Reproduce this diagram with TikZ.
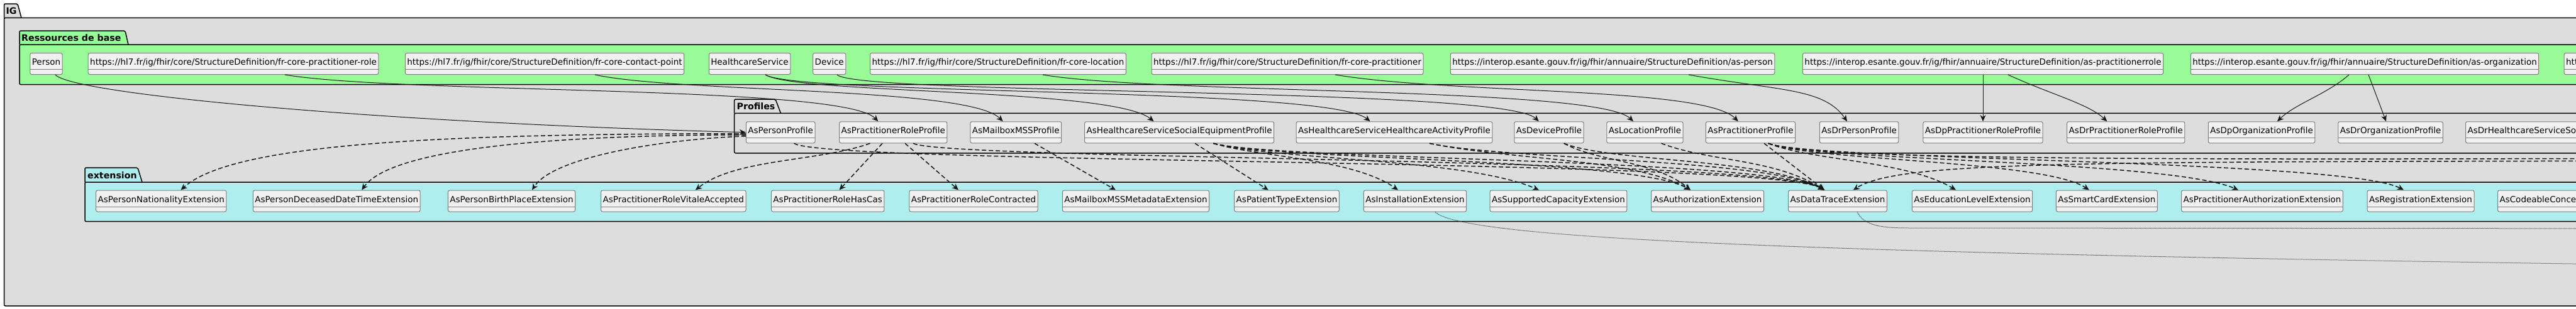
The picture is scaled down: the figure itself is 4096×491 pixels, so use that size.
\documentclass[tikz,border=0pt]{standalone}
\usepackage{fontspec}
\setmainfont{DejaVu Sans}
\usepackage{tikz}
\usetikzlibrary{arrows.meta}
\usepackage{xcolor}

\definecolor{igfill}{HTML}{DDDDDD}
\definecolor{basefill}{HTML}{98FB98}
\definecolor{extfill}{HTML}{AFEEEE}
\definecolor{clsfill}{HTML}{F1F1F1}
\definecolor{clsline}{HTML}{7F7F7F}
\definecolor{edgeline}{HTML}{181818}

\newcommand{\clsfont}{\fontsize{13.5}{16}\selectfont}
\newcommand{\pkgfont}{\fontsize{14.2}{17}\selectfont\bfseries}

\begin{document}
\begin{tikzpicture}[
        x=1pt, y=-1pt,
        pkg/.style={draw=black, line width=1.5pt, rounded corners=2pt},
        pkglabel/.style={anchor=base west, inner sep=0pt, font=\pkgfont},
        cls/.style={rectangle, draw=clsline, fill=clsfill, line width=1pt, rounded corners=2.5pt,
            inner xsep=3pt, inner ysep=0pt, text height=19pt, text depth=15pt, font=\clsfont,
            path picture={\draw[clsline, line width=1pt] ([yshift=8pt]path picture bounding box.south west) -- ([yshift=8pt]path picture bounding box.south east);}},
        link/.style={draw=edgeline, line width=1pt, -{Stealth[length=10pt, width=9pt, inset=3pt]}},
        dep/.style={link, line width=1.5pt, dash pattern=on 7pt off 4pt},
        trace/.style={draw=black!80, line width=1pt, dash pattern=on 1pt off 1pt}
    ]
    \useasboundingbox (0,0) rectangle (4096,491);
    \clip (0,0) rectangle (4096,491);
    \fill[white] (0,0) rectangle (4096,491);

    % Packages
    \draw[pkg, fill=igfill] (6.5,28.4) -- (6.5,6) -- (28,6) -- (34,28.4);
    \draw[pkg, fill=igfill] (6.5,28.4) rectangle (4300,487);
    \node[pkglabel] (igLabel) at (9.5,22) {IG};

    \draw[pkg, fill=basefill] (31,71) -- (31,49) -- (199,49) -- (204,71);
    \draw[pkg, fill=basefill] (31,71) rectangle (4300,134.6);
    \node[pkglabel] (baseLabel) at (34,65) {Ressources de base};

    \draw[pkg, fill=igfill] (1167.7,180.4) -- (1167.7,158) -- (1233,158) -- (1241.5,180.4);
    \draw[pkg, fill=igfill] (1167.7,180.4) rectangle (4300,243.8);
    \node[pkglabel] (profLabel) at (1171.5,174) {Profiles};

    \draw[pkg, fill=extfill] (135,290) -- (135,267) -- (219,267) -- (226,290);
    \draw[pkg, fill=extfill] (135,290) rectangle (4300,352.7);
    \node[pkglabel] (extLabel) at (139,284) {extension};

    % Nodes - base resources
    \node[cls] (person) at (73.5,101.5) {Person};
    \node[cls] (coreRole) at (371,101.5) {https://hl7.fr/ig/fhir/core/StructureDefinition/fr-core-practitioner-role};
    \node[cls] (coreContact) at (866,101.5) {https://hl7.fr/ig/fhir/core/StructureDefinition/fr-core-contact-point};
    \node[cls] (hcService) at (1192,101.5) {HealthcareService};
    \node[cls] (device) at (1318.7,101.5) {Device};
    \node[cls] (coreLocation) at (1587,101.5) {https://hl7.fr/ig/fhir/core/StructureDefinition/fr-core-location};
    \node[cls] (corePract) at (2047,101.5) {https://hl7.fr/ig/fhir/core/StructureDefinition/fr-core-practitioner};
    \node[cls] (asPerson) at (2564,101.5) {https://interop.esante.gouv.fr/ig/fhir/annuaire/StructureDefinition/as-person};
    \node[cls] (asPractRole) at (3153,101.5) {https://interop.esante.gouv.fr/ig/fhir/annuaire/StructureDefinition/as-practitionerrole};
    \node[cls] (asOrg) at (3760,101.5) {https://interop.esante.gouv.fr/ig/fhir/annuaire/StructureDefinition/as-organization};
    \node[cls, anchor=west] (nextRes) at (4076.6,101.5) {https://};

    % Nodes - profiles
    \node[cls] (personProf) at (1241.2,210.75) {AsPersonProfile};
    \node[cls] (practRoleProf) at (1420.3,210.75) {AsPractitionerRoleProfile};
    \node[cls] (mailboxProf) at (1615.3,210.75) {AsMailboxMSSProfile};
    \node[cls] (hcsSocialProf) at (1875.2,210.75) {AsHealthcareServiceSocialEquipmentProfile};
    \node[cls] (hcsActivityProf) at (2217,210.75) {AsHealthcareServiceHealthcareActivityProfile};
    \node[cls] (deviceProf) at (2463,210.75) {AsDeviceProfile};
    \node[cls] (locationProf) at (2615.5,210.75) {AsLocationProfile};
    \node[cls] (practProf) at (2783.5,210.75) {AsPractitionerProfile};
    \node[cls] (drPersonProf) at (2956,210.75) {AsDrPersonProfile};
    \node[cls] (dpPractRoleProf) at (3153,210.75) {AsDpPractitionerRoleProfile};
    \node[cls] (drPractRoleProf) at (3380.3,210.75) {AsDrPractitionerRoleProfile};
    \node[cls] (dpOrgProf) at (3596,210.75) {AsDpOrganizationProfile};
    \node[cls] (drOrgProf) at (3801,210.75) {AsDrOrganizationProfile};
    \node[cls, anchor=west] (drHcsSocialProf) at (3920,210.75) {AsDrHealthcareServiceSocialEquipmentProfile};

    % Nodes - extensions
    \node[cls] (nationalityExt) at (256.2,320) {AsPersonNationalityExtension};
    \node[cls] (deceasedExt) at (535.2,320) {AsPersonDeceasedDateTimeExtension};
    \node[cls] (birthPlaceExt) at (813.5,320) {AsPersonBirthPlaceExtension};
    \node[cls] (vitaleExt) at (1070.8,320) {AsPractitionerRoleVitaleAccepted};
    \node[cls] (hasCasExt) at (1316.2,320) {AsPractitionerRoleHasCas};
    \node[cls] (contractedExt) at (1548,320) {AsPractitionerRoleContracted};
    \node[cls] (mailboxMetaExt) at (1806,320) {AsMailboxMSSMetadataExtension};
    \node[cls] (patientTypeExt) at (2046,320) {AsPatientTypeExtension};
    \node[cls] (installationExt) at (2250,320) {AsInstallationExtension};
    \node[cls] (capacityExt) at (2478,320) {AsSupportedCapacityExtension};
    \node[cls] (authorizationExt) at (2715,320) {AsAuthorizationExtension};
    \node[cls] (dataTraceExt) at (2922,320) {AsDataTraceExtension};
    \node[cls] (educationExt) at (3136,320) {AsEducationLevelExtension};
    \node[cls] (smartCardExt) at (3349.8,320) {AsSmartCardExtension};
    \node[cls] (practAuthExt) at (3597,320) {AsPractitionerAuthorizationExtension};
    \node[cls] (registrationExt) at (3849,320) {AsRegistrationExtension};
    \node[cls, anchor=west] (codeableExt) at (3971,320) {AsCodeableConceptExtension};

    % free ends beyond the right border
    \coordinate (offBand) at (4300,252);
    \coordinate (offRight) at (4300,256);
    \coordinate (offTraceA) at (4300,423);
    \coordinate (offTraceB) at (4300,364);

    % Connections - resources to profiles
    \draw[link] ([xshift=14.5pt]person.south) .. controls (115,150) and (600,195) .. (personProf.west);
    \draw[link] ([xshift=82pt]coreRole.south) .. controls (640,150) and (1340,135) .. ([xshift=-24pt]practRoleProf.north);
    \draw[link] ([xshift=80pt]coreContact.south) .. controls (1080,148) and (1540,138) .. ([xshift=-20.7pt]mailboxProf.north);
    \draw[link] ([xshift=25pt]hcService.south) .. controls (1265,150) and (1770,140) .. ([xshift=-40.7pt]hcsSocialProf.north);
    \draw[link] ([xshift=25pt]hcService.south) .. controls (1270,152) and (2110,138) .. ([xshift=-38.4pt]hcsActivityProf.north);
    \draw[link] ([xshift=12.3pt]device.south) .. controls (1365,152) and (2390,138) .. ([xshift=-16.3pt]deviceProf.north);
    \draw[link] ([xshift=71pt]coreLocation.south) .. controls (1840,150) and (2540,138) .. ([xshift=-18.5pt]locationProf.north);
    \draw[link] ([xshift=76pt]corePract.south) .. controls (2310,150) and (2710,138) .. ([xshift=-19.8pt]practProf.north);
    \draw[link] ([xshift=121pt]asPerson.south) .. controls (2830,145) and (2900,140) .. ([xshift=-19pt]drPersonProf.north);
    \draw[link] (asPractRole.south) -- (dpPractRoleProf.north);
    \draw[link] ([xshift=40pt]asPractRole.south) .. controls (3260,150) and (3320,165) .. ([xshift=-30pt]drPractRoleProf.north);
    \draw[link] ([xshift=-25pt]asOrg.south) .. controls (3700,150) and (3650,165) .. ([xshift=25pt]dpOrgProf.north);
    \draw[link] ([xshift=6pt]asOrg.south) -- ([xshift=-7pt]drOrgProf.north);

    % Connections - profiles to extensions
    \draw[dep] ([yshift=-2pt]personProf.west) .. controls (700,213) and (370,228) .. ([xshift=31.4pt]nationalityExt.north);
    \draw[dep] ([yshift=-4pt]personProf.west) .. controls (850,215) and (620,240) .. ([xshift=40pt]deceasedExt.north);
    \draw[dep] ([yshift=-6pt]personProf.west) .. controls (1050,222) and (880,250) .. ([xshift=32.5pt]birthPlaceExt.north);
    \draw[dep] ([xshift=21.3pt]personProf.south) .. controls (1310,262) and (2810,252) .. ([xshift=-21pt]dataTraceExt.north);

    \draw[dep] ([xshift=-36.8pt]practRoleProf.south) .. controls (1300,258) and (1170,252) .. ([xshift=35pt]vitaleExt.north);
    \draw[dep] ([xshift=-17.3pt]practRoleProf.south) -- ([xshift=18.3pt]hasCasExt.north);
    \draw[dep] ([xshift=18.7pt]practRoleProf.south) -- ([xshift=-24pt]contractedExt.north);
    \draw[dep] ([xshift=31.7pt]practRoleProf.south) .. controls (1500,255) and (2810,250) .. ([xshift=-21pt]dataTraceExt.north);

    \draw[dep] ([xshift=29.7pt]mailboxProf.south) -- ([xshift=-32pt]mailboxMetaExt.north);

    \draw[dep] ([xshift=24.8pt]hcsSocialProf.south) -- ([xshift=-29.3pt]patientTypeExt.north);
    \draw[dep] ([xshift=54pt]hcsSocialProf.south) .. controls (2000,250) and (2150,252) .. ([xshift=-27pt]installationExt.north);
    \draw[dep] ([xshift=54pt]hcsSocialProf.south) .. controls (2030,255) and (2330,252) .. ([xshift=-31pt]capacityExt.north);
    \draw[dep] ([xshift=54pt]hcsSocialProf.south) .. controls (2030,255) and (2600,252) .. ([xshift=-27pt]authorizationExt.north);
    \draw[dep] ([xshift=54pt]hcsSocialProf.south) .. controls (2030,255) and (2810,252) .. ([xshift=-21pt]dataTraceExt.north);

    \draw[dep] ([xshift=56pt]hcsActivityProf.south) .. controls (2400,255) and (2600,252) .. ([xshift=-27pt]authorizationExt.north);
    \draw[dep] ([xshift=56pt]hcsActivityProf.south) .. controls (2400,255) and (2810,252) .. ([xshift=-21pt]dataTraceExt.north);

    \draw[dep] ([xshift=23.7pt]deviceProf.south) .. controls (2540,258) and (2630,255) .. ([xshift=-27pt]authorizationExt.north);
    \draw[dep] ([xshift=23.7pt]deviceProf.south) .. controls (2560,258) and (2810,252) .. ([xshift=-21pt]dataTraceExt.north);

    \draw[dep] ([xshift=26pt]locationProf.south) .. controls (2720,258) and (2820,252) .. ([xshift=-21pt]dataTraceExt.north);

    \draw[dep] ([xshift=21.5pt]practProf.south) -- ([xshift=-21pt]dataTraceExt.north);
    \draw[dep] ([xshift=28.2pt]practProf.south) .. controls (2880,256) and (3030,255) .. ([xshift=-26pt]educationExt.north);
    \draw[dep] ([xshift=28.2pt]practProf.south) .. controls (2880,256) and (3250,255) .. ([xshift=-28pt]smartCardExt.north);
    \draw[dep] ([xshift=28.2pt]practProf.south) .. controls (2880,256) and (3450,255) .. ([xshift=-38pt]practAuthExt.north);
    \draw[dep] ([xshift=28.2pt]practProf.south) .. controls (2880,256) and (3730,254) .. ([xshift=-27pt]registrationExt.north);
    \draw[dep] ([xshift=28.2pt]practProf.south) .. controls (2880,256) and (3500,254) .. (offBand);
    \draw[dep] (offRight) .. controls (3300,258) and (3020,256) .. ([xshift=24.7pt]dataTraceExt.north);

    % Connections - extensions going out
    \draw[trace] ([xshift=32pt]installationExt.south) .. controls (2330,385) and (3000,405) .. (offTraceA);
    \draw[trace] ([xshift=31pt]dataTraceExt.south) .. controls (2965,362) and (3000,363) .. (3040,363) -- (offTraceB);

\end{tikzpicture}
\end{document}
